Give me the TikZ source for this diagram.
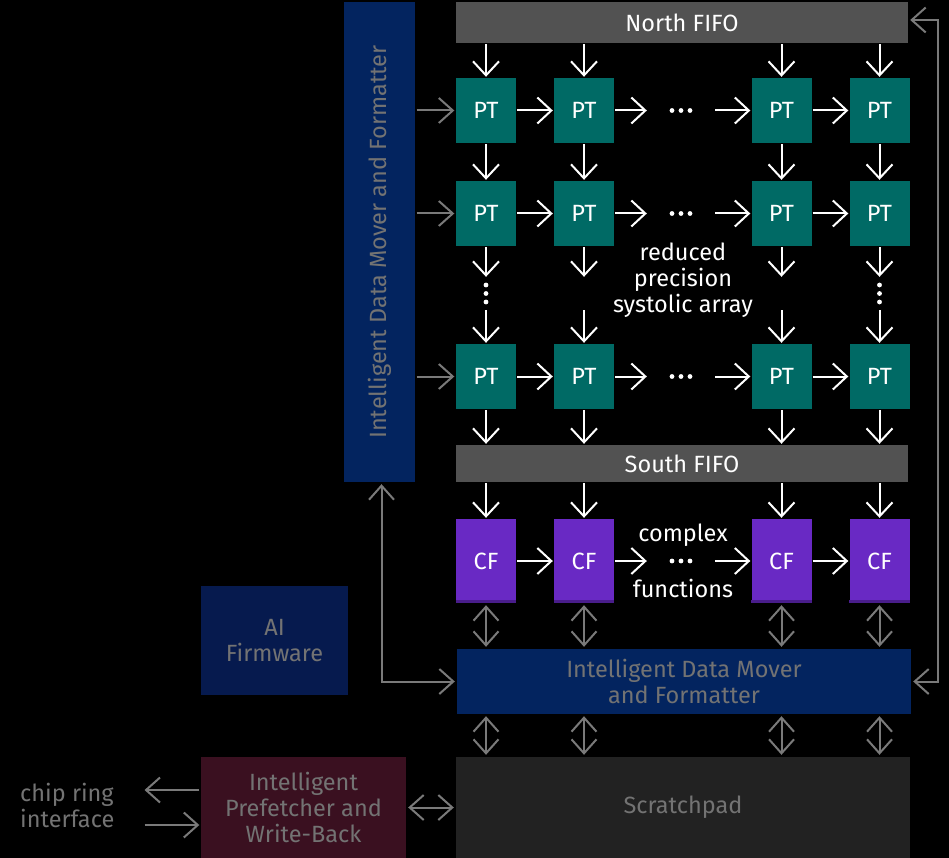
\documentclass[tikz,border=0pt]{standalone}
\usepackage{fontspec}
\setmainfont{Fira Sans}
\usetikzlibrary{arrows.meta}
\definecolor{fifogray}{HTML}{525252}
\definecolor{ptteal}{HTML}{006A65}
\definecolor{cfpurple}{HTML}{6929C4}
\definecolor{cfdark}{HTML}{491D8B}
\definecolor{idmfblue}{HTML}{03245F}
\definecolor{fwblue}{HTML}{061A4E}
\definecolor{pfred}{HTML}{3A1020}
\definecolor{spgray}{HTML}{222222}
\definecolor{txtgray}{HTML}{737373}
\definecolor{arrgray}{HTML}{7A7A7A}
\begin{document}
\begin{tikzpicture}[x=1pt,y=-1pt,
  font=\fontsize{23.5}{26}\selectfont,
  box/.style={draw=none, inner sep=0pt, align=center},
  fifo/.style={box, fill=fifogray, text=white, minimum width=452pt},
  ptbox/.style={box, fill=ptteal, text=white, minimum width=60pt, minimum height=65pt},
  cfbox/.style={box, fill=cfpurple, text=white, minimum width=60pt, minimum height=84pt},
  gapnode/.style={box, minimum width=10pt, minimum height=31pt},
  hdots/.style={box, minimum width=66pt, minimum height=10pt},
  lbl/.style={box, text=white},
  glbl/.style={box, text=txtgray},
  warr/.style={draw=white, line width=2pt, -{Straight Barb[length=14pt,width=26pt]}, shorten >=1pt, shorten <=1pt},
  garr/.style={draw=arrgray, line width=2pt, -{Straight Barb[length=14pt,width=25pt]}, shorten >=1.5pt, shorten <=1.5pt},
  gbi/.style={draw=arrgray, line width=2pt, {Straight Barb[length=14pt,width=25pt]}-{Straight Barb[length=14pt,width=25pt]}, shorten >=2pt, shorten <=2pt}
]
\fill[black] (0,0) rectangle (949,858);
\useasboundingbox (0,0) rectangle (949,858);

% FIFOs
\node[fifo, minimum height=41pt] (nf) at (682,22.5) {North FIFO};
\node[fifo, minimum height=37pt] (sf) at (682,463.5) {South FIFO};

% vertical data mover
\node[box, fill=idmfblue, text=txtgray, minimum width=71pt, minimum height=480pt] (vi) at (379.5,242)
  {\rotatebox{90}{Intelligent Data Mover and Formatter}};

% PT grid
\foreach \r/\y in {1/110.5, 2/213.5, 3/376.5}{
  \foreach \c/\x in {1/486, 2/584, 3/781.5, 4/879.5}{
    \node[ptbox] (p\r\c) at (\x,\y) {PT};
  }
  \node[hdots] (hd\r) at (681,\y) {};
  \foreach \dx in {-9,0,9} \fill[white] ([xshift=\dx pt]hd\r.center) circle (2.4pt);
}

% CF row
\foreach \c/\x in {1/486, 2/584, 3/781.5, 4/879.5}{
  \node[cfbox] (c\c) at (\x,561) {CF};
  \fill[cfdark] (c\c.south west) rectangle ([yshift=3.5pt]c\c.south east);
}
\node[hdots] (hd4) at (681,561) {};
\foreach \dx in {-9,0,9} \fill[white] ([xshift=\dx pt]hd4.center) circle (2.4pt);
\node[lbl] (cpx) at (683,535) {complex};
\node[lbl] (fns) at (683,588) {functions};

% gap nodes between row 2 and row 3
\foreach \c/\x in {1/486, 2/584, 3/781.5, 4/879.5}{
  \node[gapnode] (vg\c) at (\x,293.5) {};
}
\foreach \c in {1,4}{
  \foreach \dy in {-8.5,0,8.5} \fill[white] ([yshift=\dy pt]vg\c.center) circle (2.4pt);
}

\node[lbl] (sys) at (683,280) {reduced\\precision\\systolic array};

% lower blocks
\node[box, fill=idmfblue, text=txtgray, minimum width=454pt, minimum height=65pt] (hi) at (684,681.5)
  {Intelligent Data Mover\\and Formatter};
\node[box, fill=spgray, text=txtgray, minimum width=454pt, minimum height=101pt] (sp) at (683,807.5) {Scratchpad};
\node[box, fill=fwblue, text=txtgray, minimum width=147pt, minimum height=109pt] (fw) at (274.5,640.5) {AI\\Firmware};
\node[box, fill=pfred, text=txtgray, minimum width=205pt, minimum height=101pt] (pf) at (303.5,807.5)
  {Intelligent\\Prefetcher and\\Write-Back};
\node[glbl, anchor=west, align=left] (cr) at (20,805.5) {chip ring\\interface};

% white arrows
\foreach \c in {1,2,3,4}{
  \draw[warr] (nf.south -| p1\c) -- (p1\c.north);
  \draw[warr] (p1\c.south) -- (p2\c.north);
  \draw[warr] (p2\c.south) -- (vg\c.north);
  \draw[warr] (vg\c.south) -- (p3\c.north);
  \draw[warr] (p3\c.south) -- (sf.north -| p3\c);
  \draw[warr] (sf.south -| c\c) -- (c\c.north);
}
\foreach \r in {1,2,3}{
  \draw[warr] (p\r1.east) -- (p\r2.west);
  \draw[warr] (p\r2.east) -- (hd\r.west);
  \draw[warr] (hd\r.east) -- (p\r3.west);
  \draw[warr] (p\r3.east) -- (p\r4.west);
  \draw[garr] (vi.east |- p\r1) -- (p\r1.west);
}
\draw[warr] (c1.east) -- (c2.west);
\draw[warr] (c2.east) -- (hd4.west);
\draw[warr] (hd4.east) -- (c3.west);
\draw[warr] (c3.east) -- (c4.west);

% gray bidirectional arrows
\foreach \c in {1,2,3,4}{
  \draw[gbi] (c\c.south) -- (hi.north -| c\c);
  \draw[gbi] (hi.south -| c\c) -- (sp.north -| c\c);
}
\draw[gbi] ([xshift=2pt]vi.south) |- (hi.west);
\coordinate (rc) at (938,0);
\draw[gbi] (hi.east) -- (hi.east -| rc) |- ([yshift=2.5pt]nf.east);
\draw[gbi] (pf.east) -- (sp.west |- pf.east);
\coordinate (ci1) at (143,790);
\coordinate (ci2) at (143,825);
\draw[garr] (pf.west |- ci1) -- (ci1);
\draw[garr] (ci2) -- (pf.west |- ci2);
\end{tikzpicture}
\end{document}
